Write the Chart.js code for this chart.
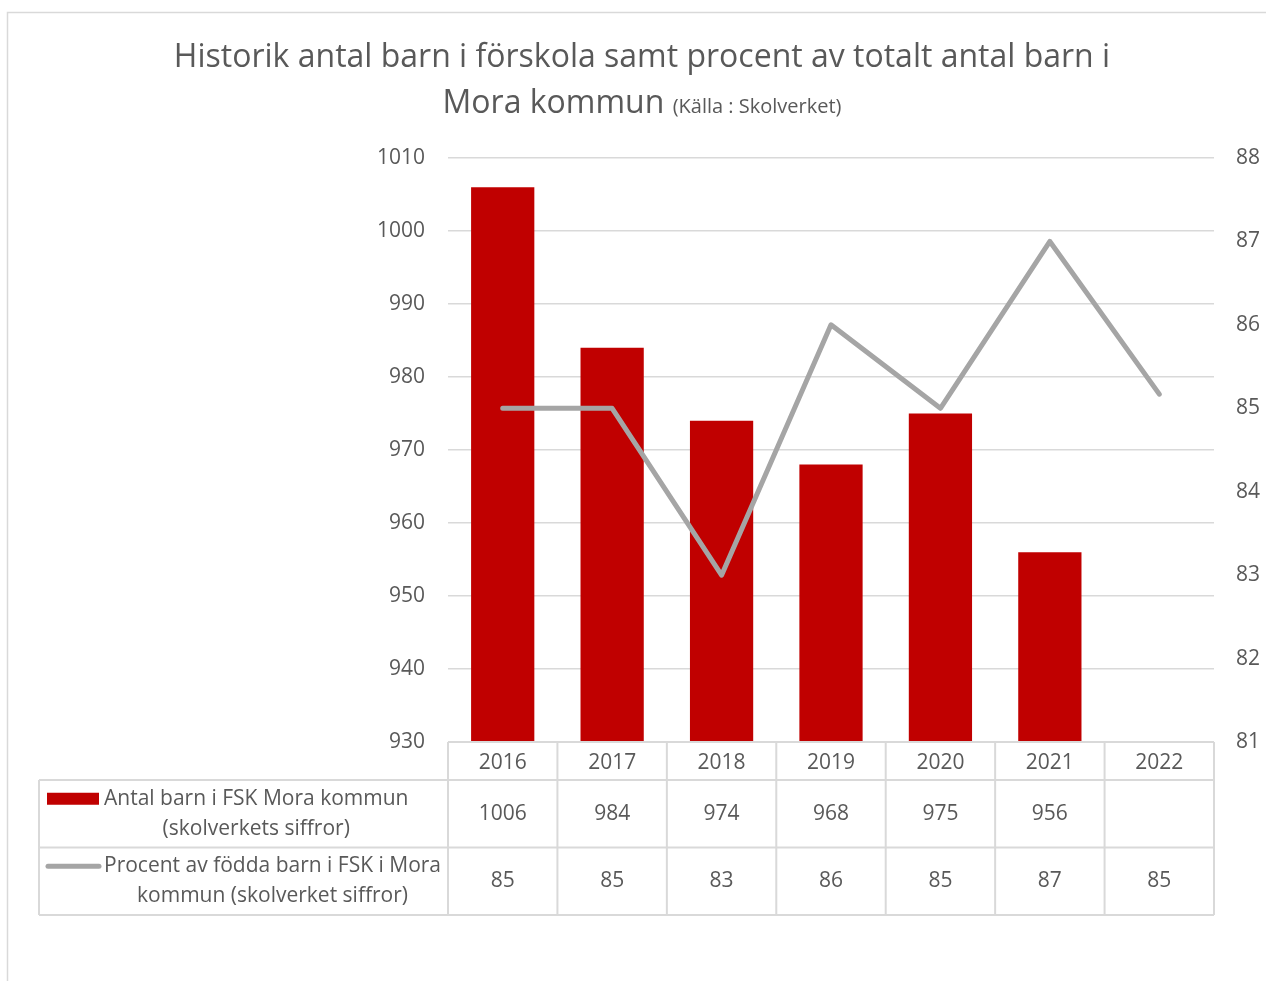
<!DOCTYPE html>
<html>
<head>
<meta charset="utf-8">
<script src="https://cdn.jsdelivr.net/npm/chart.js@4.4.1/dist/chart.umd.min.js"></script>
<style>
  html, body { margin: 0; padding: 0; background: #fff; }
</style>
</head>
<body>
<canvas id="chart" width="1266" height="981"></canvas>
<script>
"use strict";

const years = ["2016", "2017", "2018", "2019", "2020", "2021", "2022"];
const antalBarn = [1006, 984, 974, 968, 975, 956, null];
const procentFodda = [85, 85, 83, 86, 85, 87, 85.17];
const barnLabel = ["Antal barn i FSK Mora kommun", "(skolverkets siffror)"];
const procentLabel = ["Procent av födda barn i FSK i Mora", "kommun (skolverket siffror)"];
const titleLine1 = "Historik antal barn i förskola samt procent av totalt antal barn i";
const titleLine2 = "Mora kommun";
const titleSource = "(Källa : Skolverket)";

const RED = "#C00000";
const GREY = "#A5A5A5";
const TEXT = "#595959";
const BORDER = "#D9D9D9";
const FONT = "'Open Sans', sans-serif";

const chartCanvas = document.getElementById("chart");

// outer frame + title
const framePlugin = {
  id: "frame",
  beforeDraw(chart) {
    const { ctx } = chart;
    ctx.save();
    ctx.fillStyle = "#fff";
    ctx.fillRect(0, 0, chart.width, chart.height);
    ctx.strokeStyle = BORDER;
    ctx.lineWidth = 1.5;
    ctx.strokeRect(7.5, 12.5, chart.width + 20, chart.height + 20);

    ctx.fillStyle = TEXT;
    ctx.textBaseline = "alphabetic";
    ctx.textAlign = "center";
    ctx.font = "32px " + FONT;
    ctx.fillText(titleLine1, 642, 67);

    // second line: big text + small source note
    const bigFont = "32px " + FONT;
    const smallFont = "20px " + FONT;
    ctx.font = bigFont;
    const w1 = ctx.measureText(titleLine2 + " ").width;
    ctx.font = smallFont;
    const w2 = ctx.measureText(titleSource).width;
    const startX = 642 - (w1 + w2) / 2;
    ctx.textAlign = "left";
    ctx.font = bigFont;
    ctx.fillText(titleLine2 + " ", startX, 113);
    ctx.font = smallFont;
    ctx.fillText(titleSource, startX + w1, 113);
    ctx.restore();
  },
};

// data table under the plot, like Excel's
const tablePlugin = {
  id: "dataTable",
  afterDraw(chart) {
    const { ctx, chartArea, scales } = chart;
    const left = chartArea.left;
    const right = chartArea.right;
    const top = chartArea.bottom;
    const colW = (right - left) / years.length;
    const tableLeft = 39;
    const headH = 38;
    const rowH = 67.5;
    const r1 = top + headH;
    const r2 = r1 + rowH;
    const r3 = r2 + rowH;

    ctx.save();
    ctx.strokeStyle = BORDER;
    ctx.lineWidth = 2;
    ctx.beginPath();
    ctx.moveTo(left, top);
    ctx.lineTo(right, top);
    [r1, r2, r3].forEach((y) => {
      ctx.moveTo(tableLeft, y);
      ctx.lineTo(right, y);
    });
    ctx.moveTo(tableLeft, r1);
    ctx.lineTo(tableLeft, r3);
    for (let i = 0; i <= years.length; i++) {
      const x = left + i * colW;
      ctx.moveTo(x, top);
      ctx.lineTo(x, r3);
    }
    ctx.stroke();

    ctx.fillStyle = TEXT;
    ctx.font = "21px " + FONT;
    ctx.textAlign = "center";
    ctx.textBaseline = "middle";
    const c1 = (r1 + r2) / 2;
    const c2 = (r2 + r3) / 2;
    years.forEach((y, i) => {
      const x = scales.x.getPixelForValue(i);
      if (antalBarn[i] !== null) ctx.fillText(String(antalBarn[i]), x, c1);
      if (procentFodda[i] !== null) ctx.fillText(String(Math.round(procentFodda[i])), x, c2);
    });

    // legend keys
    ctx.fillStyle = RED;
    ctx.fillRect(tableLeft + 8, c1 - 21, 52, 12);
    ctx.strokeStyle = GREY;
    ctx.lineWidth = 5;
    ctx.lineCap = "round";
    ctx.beginPath();
    ctx.moveTo(tableLeft + 9, c2 - 15);
    ctx.lineTo(tableLeft + 60, c2 - 15);
    ctx.stroke();

    // series names
    ctx.fillStyle = TEXT;
    const textX = tableLeft + 65;
    [[barnLabel, c1], [procentLabel, c2]].forEach(([lines, cy]) => {
      const maxW = Math.max(...lines.map((l) => ctx.measureText(l).width));
      const cx = textX + maxW / 2;
      ctx.fillText(lines[0], cx, cy - 15);
      ctx.fillText(lines[1], cx, cy + 15);
    });
    ctx.restore();
  },
};

new Chart(chartCanvas, {
  data: {
    labels: years,
    datasets: [
      {
        type: "line",
        label: procentLabel.join(" "),
        data: procentFodda,
        yAxisID: "y1",
        borderColor: GREY,
        borderWidth: 5,
        pointRadius: 0,
        borderCapStyle: "round",
        borderJoinStyle: "round",
        order: 0,
      },
      {
        type: "bar",
        label: barnLabel.join(" "),
        data: antalBarn,
        yAxisID: "y",
        backgroundColor: RED,
        barPercentage: 0.578,
        categoryPercentage: 1,
        order: 1,
      },
    ],
  },
  options: {
    responsive: false,
    animation: false,
    devicePixelRatio: 1,
    layout: { padding: { top: 158, left: 0, right: 0, bottom: 0 } },
    plugins: {
      legend: { display: false },
      tooltip: { enabled: false },
      title: { display: false },
    },
    scales: {
      x: {
        grid: { display: false },
        border: { display: false },
        ticks: { color: TEXT, font: { family: FONT, size: 21 }, padding: 0, maxRotation: 0 },
        afterFit: (s) => { s.height = 239; },
      },
      y: {
        position: "left",
        min: 930,
        max: 1010,
        ticks: {
          stepSize: 10,
          color: TEXT,
          font: { family: FONT, size: 21 },
          padding: 23,
          callback: (v) => String(v),
        },
        grid: { color: BORDER, lineWidth: 1.5, drawTicks: false },
        border: { display: false },
        afterFit: (s) => { s.width = 448; },
      },
      y1: {
        position: "right",
        min: 81,
        max: 88,
        ticks: { stepSize: 1, color: TEXT, font: { family: FONT, size: 21 }, padding: 22 },
        grid: { display: false, drawTicks: false },
        border: { display: false },
        afterFit: (s) => { s.width = 52; },
      },
    },
  },
  plugins: [framePlugin, tablePlugin],
});
</script>
</body>
</html>
